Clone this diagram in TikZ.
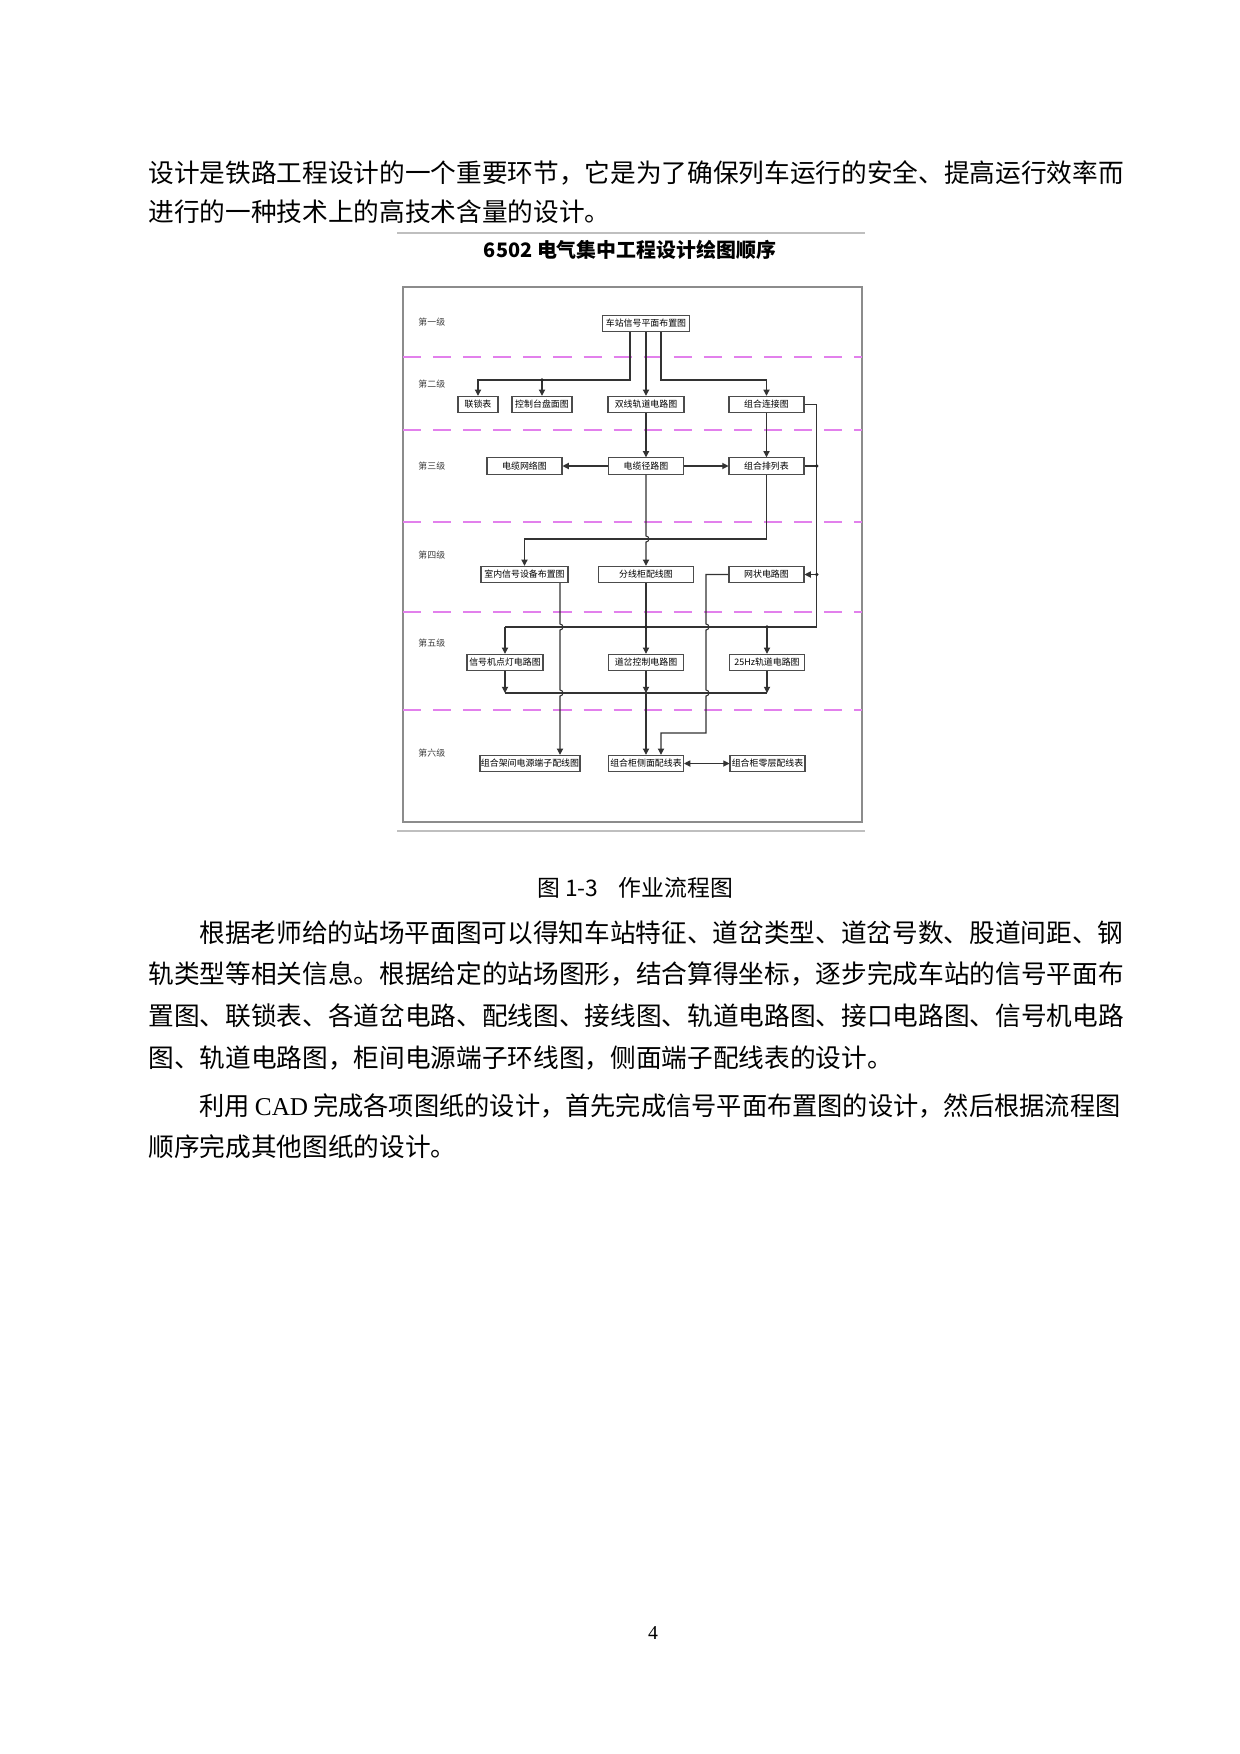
\documentclass[tikz,border=0pt]{standalone}
\usepackage{fontspec}
\setmainfont{Liberation Serif}
\newfontfamily\cjk{Noto Sans CJK SC}
\usepackage{tikz}
\usetikzlibrary{
    calc,
    arrows.meta
}
\definecolor{levelpink}{RGB}{226,128,236}
\tikzset{
    body text/.style={anchor=west, inner sep=0pt, font=\cjk\fontsize{12.37pt}{14pt}\selectfont}
}

\begin{document}
\begin{tikzpicture}[
        x=0.169355mm, y=-0.169355mm,
        chart box/.style={draw=black!70, fill=white, line width=0.5pt, inner sep=0pt,
            minimum height=7.9pt, minimum width=#1*0.4819pt, font=\cjk\fontsize{4.3pt}{5pt}\selectfont},
        level line/.style={levelpink, line width=0.6pt, dash pattern=on 8.7pt off 5.8pt},
        level label/.style={anchor=west, inner sep=0pt, text=black!75, font=\cjk\fontsize{4.3pt}{5pt}\selectfont},
        flow line/.style={black!80, line width=0.5pt},
        flow arrow/.style={flow line, -{Triangle[length=3pt, width=3pt]}},
        join dot/.style={circle, fill=black!85, inner sep=0pt, minimum size=1.8pt}
    ]
    \useasboundingbox (0,0) rectangle (1240,1754);
    \fill[white] (0,0) rectangle (1240,1754);

    % running text above the figure
    \node[body text] (l1) at (148,173) {设计是铁路工程设计的一个重要环节，它是为了确保列车运行的安全、提高运行效率而};
    \node[body text] (l2) at (148,212) {进行的一种技术上的高技术含量的设计。};

    % figure frame
    \draw[black!25, line width=1.2pt] (397,233) -- (865,233);
    \draw[black!25, line width=1.2pt] (397,831) -- (865,831);
    \node[font=\cjk\bfseries\fontsize{9.6pt}{11pt}\selectfont] (title) at (630,250) {6502 电气集中工程设计绘图顺序};
    \draw[black!45, line width=0.6pt] (403,287) rectangle (862,822);

    \foreach \y in {357,430,522,612,710} {
        \draw[level line] (403,\y) -- (862,\y);
    }
    \foreach \n/\y in {一/322,二/384,三/466,四/555,五/643,六/753} {
        \node[level label] at (418,\y) {第\n{}级};
    }

    % boxes
    \node[chart box=87] (top) at (646,323.5) {车站信号平面布置图};

    \node[chart box=40] (ls) at (478,404.5) {联锁表};
    \node[chart box=60] (kz) at (542,404.5) {控制台盘面图};
    \node[chart box=76] (sx) at (646,404.5) {双线轨道电路图};
    \node[chart box=75] (zl) at (766.5,404.5) {组合连接图};

    \node[chart box=75] (dw) at (524.5,466) {电缆网络图};
    \node[chart box=75] (dj) at (646,466) {电缆径路图};
    \node[chart box=75] (zp) at (766.5,466) {组合排列表};

    \node[chart box=87] (sn) at (524.5,574.5) {室内信号设备布置图};
    \node[chart box=95] (fx) at (646,574.5) {分线柜配线图};
    \node[chart box=75] (wz) at (766.5,574.5) {网状电路图};

    \node[chart box=76] (xh) at (505,662.5) {信号机点灯电路图};
    \node[chart box=75] (dc) at (646,662.5) {道岔控制电路图};
    \node[chart box=75] (gd) at (767,662.5) {25Hz轨道电路图};

    \node[chart box=100] (zj) at (530,763.5) {组合架间电源端子配线图};
    \node[chart box=75] (cm) at (646,763.5) {组合柜侧面配线表};
    \node[chart box=75] (lc) at (767.5,763.5) {组合柜零层配线表};

    % bus rows and vertical runs
    \coordinate (b1) at (0,380);
    \coordinate (b3) at (0,539);
    \coordinate (b4) at (0,627);
    \coordinate (b5) at (0,693);
    \coordinate (b6) at (0,733);
    \coordinate (t1) at (630,0);
    \coordinate (t3) at (661,0);
    \coordinate (c1) at (560,0);
    \coordinate (lv) at (706,0);
    \coordinate (rv) at (816.7,0);

    % first -> second level
    \draw[flow arrow] (top.south -| t1) |- (ls |- b1) -- (ls);
    \draw[flow arrow] (kz |- b1) -- (kz);
    \node[join dot] at (kz |- b1) {};
    \draw[flow arrow] (top) -- (sx);
    \draw[flow arrow] (top.south -| t3) |- (zl |- b1) -- (zl);

    % second -> third level
    \draw[flow arrow] (sx) -- (dj);
    \draw[flow arrow] (zl) -- (zp);
    \draw[flow arrow] (dj) -- (dw);
    \draw[flow arrow] (dj) -- (zp);

    % right hand run
    \draw[flow line] (zl.east) -| (rv |- b4) -- (xh |- b4);
    \draw[flow line] (zp.east) -- (zp.east -| rv);
    \node[join dot] at (zp.east -| rv) {};
    \draw[flow arrow] (wz.east -| rv) -- (wz.east);
    \node[join dot] at (wz.east -| rv) {};

    % third -> fourth level
    \draw[flow arrow] (zp.south) -- (zp |- b3) -| (sn);
    \draw[flow arrow] (dj.south) -- ($(dj |- b3)+(0,-3)$) arc[start angle=-90, end angle=90, radius=3] -- (fx.north);

    % fourth -> fifth and sixth level
    \draw[flow arrow] (sn.south -| c1) -- ($(c1 |- b4)+(0,-3)$) arc[start angle=-90, end angle=90, radius=3]
        -- ($(c1 |- b5)+(0,-3)$) arc[start angle=-90, end angle=90, radius=3] -- (zj.north -| c1);
    \draw[flow arrow] (fx) -- (dc);
    \node[join dot] at (dc |- b4) {};
    \node[join dot] at (gd |- b4) {};
    \draw[flow arrow] (xh |- b4) -- (xh);
    \draw[flow arrow] (gd |- b4) -- (gd);
    \draw[flow arrow] (wz.west) -| ($(lv |- b4)+(0,-3)$) arc[start angle=-90, end angle=90, radius=3]
        -- ($(lv |- b5)+(0,-3)$) arc[start angle=-90, end angle=90, radius=3] |- (t3 |- b6) -- (cm.north -| t3);

    % fifth -> sixth level
    \draw[flow arrow] (xh) -- (xh |- b5);
    \draw[flow arrow] (dc) -- (dc |- b5);
    \draw[flow arrow] (gd) -- (gd |- b5);
    \draw[flow line] (xh |- b5) -- (gd |- b5);
    \draw[flow arrow] (dc |- b5) -- (cm);
    \draw[flow line, {Triangle[length=3pt, width=3pt]}-{Triangle[length=3pt, width=3pt]}] (cm) -- (lc);

    % caption and text below
    \node[font=\cjk\fontsize{11pt}{13pt}\selectfont] (caption) at (635,888) {图 1-3\hspace{0.9em}作业流程图};

    \node[body text] (p2a) at (199,933) {根据老师给的站场平面图可以得知车站特征、道岔类型、道岔号数、股道间距、钢};
    \node[body text] (p2b) at (148,974) {轨类型等相关信息。根据给定的站场图形，结合算得坐标，逐步完成车站的信号平面布};
    \node[body text] (p2c) at (148,1016) {置图、联锁表、各道岔电路、配线图、接线图、轨道电路图、接口电路图、信号机电路};
    \node[body text] (p2d) at (148,1058) {图、轨道电路图，柜间电源端子环线图，侧面端子配线表的设计。};
    \node[body text] (p3a) at (199,1106) {\resizebox{443.8pt}{\height}{利用\hspace{2.5pt}{\rmfamily CAD}\hspace{2.5pt}完成各项图纸的设计，首先完成信号平面布置图的设计，然后根据流程图}};
    \node[body text] (p3b) at (148,1147) {顺序完成其他图纸的设计。};

    \node[font=\fontsize{9.5pt}{11pt}\selectfont] (pagenum) at (653,1633) {4};
\end{tikzpicture}
\end{document}
